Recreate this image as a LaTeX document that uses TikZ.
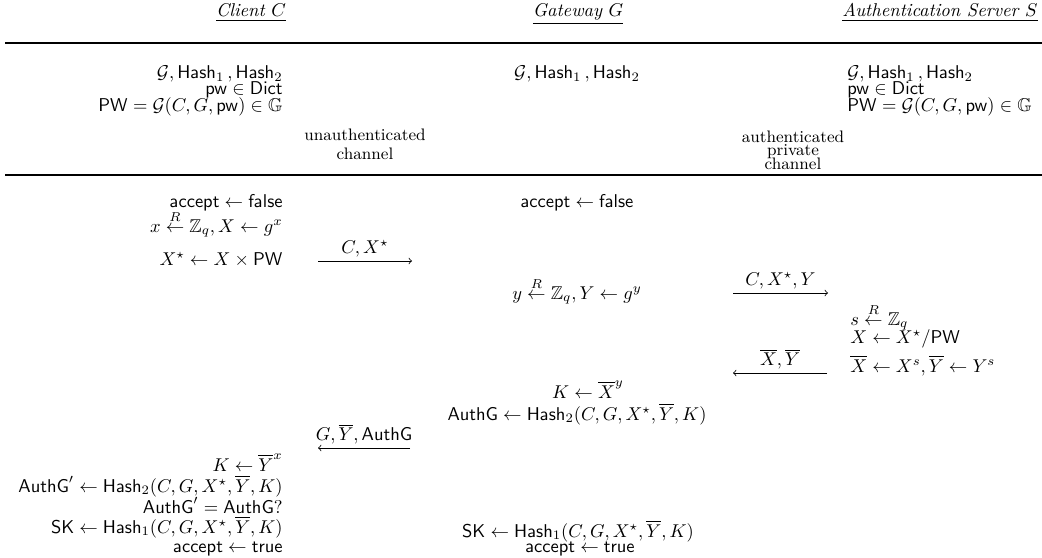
\documentclass[tikz,border=0pt]{standalone}
\usepackage{amsmath,amssymb}
\usepackage{tikz}
\tikzset{party/.style={anchor=base, inner sep=0pt},
lstep/.style={anchor=base east, inner sep=0pt},
mstep/.style={anchor=base, inner sep=0pt},
rstep/.style={anchor=base west, inner sep=0pt},
chan/.style={anchor=base, inner sep=0pt, font=\small},
msg/.style={->, line width=0.4pt},
msglabel/.style={above, inner sep=2pt}}
\newcommand{\rndfrom}{\overset{R}{\leftarrow}}
\newcommand{\hashes}{\mathcal{G}, \mathsf{Hash}_1\,, \mathsf{Hash}_2}

\begin{document}
\begin{tikzpicture}[x=0.54pt,y=-0.54pt]
\useasboundingbox (0,0) rectangle (1042,558);
\node[party] (client) at (251,17) {\underline{\textit{Client $C$}}};
\node[party] (gateway) at (578,17) {\underline{\textit{Gateway $G$}}};
\node[party] (server) at (940,17) {\underline{\textit{Authentication Server $S$}}};
\foreach \y in {43,175}
	\draw[line width=1.6pt] (5,\y) -- (1042,\y) ;

\node[lstep] (c0a) at (283,79) {$\hashes$};
\node[lstep] (c0b) at (283,95) {$\mathsf{pw} \in \mathsf{Dict}$};
\node[lstep] (c0c) at (283,112) {$\mathsf{PW} = \mathcal{G}(C, G, \mathsf{pw}) \in \mathbb{G}$};
\node[mstep] (g0a) at (577,79) {$\hashes$};
\node[rstep] (s0a) at (847,79) {$\hashes$};
\node[rstep] (s0b) at (847,95) {$\mathsf{pw} \in \mathsf{Dict}$};
\node[rstep] (s0c) at (847,112) {$\mathsf{PW} = \mathcal{G}(C, G, \mathsf{pw}) \in \mathbb{G}$};
\node[chan] (ua) at (365,140) {unauthenticated};
\node[chan] (ub) at (365,160) {channel};
\node[chan] (aa) at (793,142) {authenticated};
\node[chan] (ab) at (793,156) {private};
\node[chan] (ac) at (793,169) {channel};

\node[lstep] (c1) at (283,207) {$\mathsf{accept} \leftarrow \mathsf{false}$};
\node[lstep] (c2) at (283,232) {$x \rndfrom \mathbb{Z}_q, X \leftarrow g^x$};
\node[lstep] (c3) at (283,265) {$X^\star \leftarrow X \times \mathsf{PW}$};
\node[mstep] (g1) at (577,207) {$\mathsf{accept} \leftarrow \mathsf{false}$};
\node[mstep] (g2) at (577,299) {$y \rndfrom \mathbb{Z}_q, Y \leftarrow g^y$};
\node[rstep] (s1) at (850,325) {$s \rndfrom \mathbb{Z}_q$};
\node[rstep] (s2) at (850,343) {$X \leftarrow X^\star/\mathsf{PW}$};
\node[rstep] (s3) at (850,372) {$\overline{X} \leftarrow X^s, \overline{Y} \leftarrow Y^s$};
\node[mstep] (g3) at (588,398) {$K \leftarrow \overline{X}^y$};
\node[mstep] (g4) at (577,420) {$\mathsf{AuthG} \leftarrow \mathsf{Hash}_2(C, G, X^\star, \overline{Y}, K)$};
\node[lstep] (c4) at (283,471) {$K \leftarrow \overline{Y}^x$};
\node[lstep] (c5) at (283,492) {$\mathsf{AuthG}' \leftarrow \mathsf{Hash}_2(C, G, X^\star, \overline{Y}, K)$};
\node[lstep] (c6) at (283,513) {$\mathsf{AuthG}' = \mathsf{AuthG}?$};
\node[lstep] (c7) at (283,533) {$\mathsf{SK} \leftarrow \mathsf{Hash}_1(C, G, X^\star, \overline{Y}, K)$};
\node[lstep] (c8) at (283,552) {$\mathsf{accept} \leftarrow \mathsf{true}$};
\node[mstep] (g5) at (578,537) {$\mathsf{SK} \leftarrow \mathsf{Hash}_1(C, G, X^\star, \overline{Y}, K)$};
\node[mstep] (g6) at (580,552) {$\mathsf{accept} \leftarrow \mathsf{true}$};

\coordinate (m1a) at (318,261) ; \coordinate (m1b) at (412,261) ;
\coordinate (m2a) at (733,293) ; \coordinate (m2b) at (828,293) ;
\coordinate (m3a) at (827,373) ; \coordinate (m3b) at (733,373) ;
\coordinate (m4a) at (410,448) ; \coordinate (m4b) at (318,448) ;
\draw[msg] (m1a) -- node[msglabel] (l1) {$C, X^\star$} (m1b) ;
\draw[msg] (m2a) -- node[msglabel] (l2) {$C, X^\star, Y$} (m2b) ;
\draw[msg] (m3a) -- node[msglabel] (l3) {$\overline{X}, \overline{Y}$} (m3b) ;
\draw[msg] (m4a) -- node[msglabel] (l4) {$G, \overline{Y}, \mathsf{AuthG}$} (m4b) ;
\end{tikzpicture}
\end{document}
